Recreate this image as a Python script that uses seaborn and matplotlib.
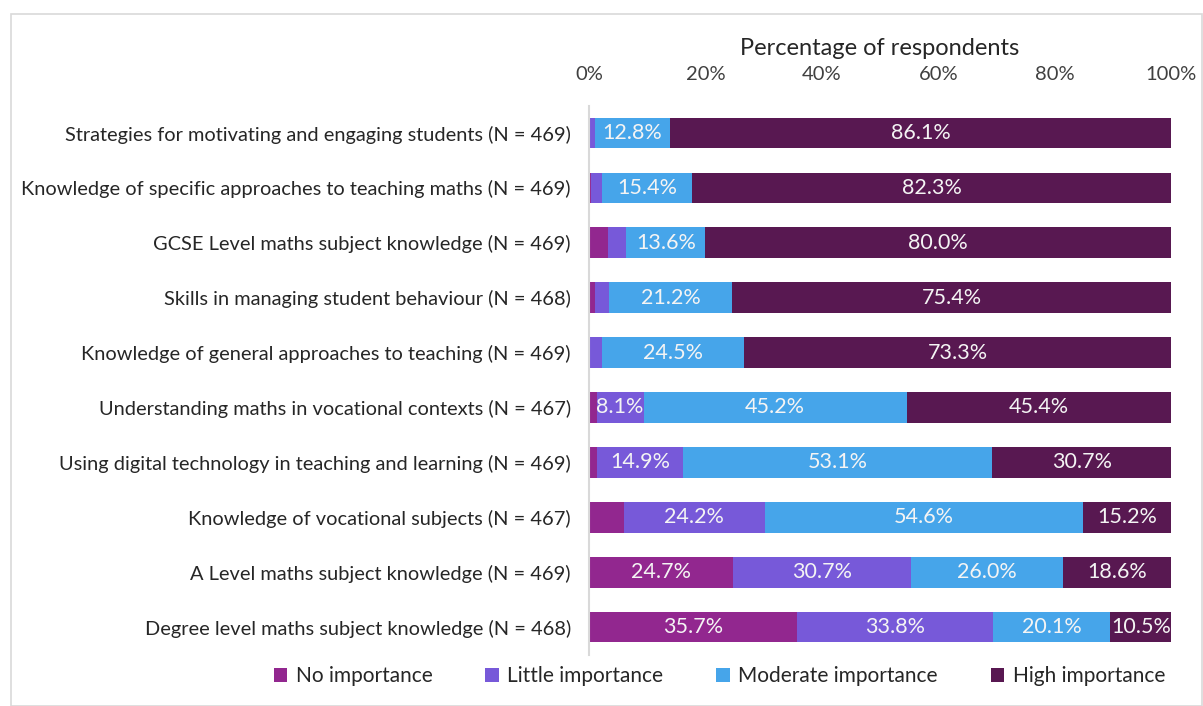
import numpy as np
import pandas as pd
import matplotlib.pyplot as plt
import seaborn as sns
from matplotlib.patches import Patch, Rectangle

# values (percent of respondents)
categories = [
    "Strategies for motivating and engaging students (N = 469)",
    "Knowledge of specific approaches to teaching maths (N = 469)",
    "GCSE Level maths subject knowledge (N = 469)",
    "Skills in managing student behaviour (N = 468)",
    "Knowledge of general approaches to teaching (N = 469)",
    "Understanding maths in vocational contexts (N = 467)",
    "Using digital technology in teaching and learning (N = 469)",
    "Knowledge of vocational subjects (N = 467)",
    "A Level maths subject knowledge (N = 469)",
    "Degree level maths subject knowledge (N = 468)",
]
no_importance = [0.0, 0.4, 3.3, 1.0, 0.0, 1.3, 1.3, 6.0, 24.7, 35.7]
little_importance = [1.1, 1.9, 3.1, 2.4, 2.2, 8.1, 14.9, 24.2, 30.7, 33.8]
moderate_importance = [12.8, 15.4, 13.6, 21.2, 24.5, 45.2, 53.1, 54.6, 26.0, 20.1]
high_importance = [86.1, 82.3, 80.0, 75.4, 73.3, 45.4, 30.7, 15.2, 18.6, 10.5]

levels = ["No importance", "Little importance", "Moderate importance", "High importance"]
colors = ["#92278f", "#7759d9", "#46a5ea", "#581851"]
tick_labels = ["0%", "20%", "40%", "60%", "80%", "100%"]

df = pd.DataFrame({
    "category": categories,
    "No importance": no_importance,
    "Little importance": little_importance,
    "Moderate importance": moderate_importance,
    "High importance": high_importance,
})
cum = df[levels].cumsum(axis=1)
for lv in levels:
    df["end_" + lv] = cum[lv]

sns.set_theme(style="white")
plt.rcParams["font.family"] = ["Lato", "DejaVu Sans"]

fig = plt.figure(figsize=(12.03, 7.06), dpi=100)
ax = fig.add_axes([0.4896, 0.0729, 0.4838, 0.7776])

# stacked bars: draw cumulative totals from the right-most level backwards
for lv, col in reversed(list(zip(levels, colors))):
    sns.barplot(data=df, x="end_" + lv, y="category", color=col,
                width=0.56, linewidth=0, saturation=1, ax=ax, orient="h")

# value labels (only for segments wide enough)
for i, row in df.iterrows():
    start = 0.0
    for lv in levels:
        v = row[lv]
        if v >= 8:
            ax.text(start + v / 2, i, f"{v:.1f}%", ha="center", va="center",
                    color="#f4f4f4", fontsize=15.5)
        start += v

ax.set_xlim(0, 100)
ax.set_xticks(np.arange(0, 101, 20))
ax.set_xticklabels(tick_labels, fontsize=14.5, color="#404040")
ax.xaxis.tick_top()
ax.xaxis.set_label_position("top")
ax.set_xlabel("Percentage of respondents", fontsize=17, color="#262626", labelpad=8)
ax.set_ylabel("")
ax.tick_params(axis="x", length=0, pad=16)
ax.tick_params(axis="y", length=0, pad=13)
for lab in ax.get_yticklabels():
    lab.set_fontsize(14.4)
    lab.set_color("#262626")

for s in ["top", "right", "bottom"]:
    ax.spines[s].set_visible(False)
ax.spines["left"].set_color("#d9d9d9")
ax.spines["left"].set_linewidth(1.5)

handles = [Patch(facecolor=c, edgecolor="none") for c in colors]
fig.legend(handles, levels, loc="center", bbox_to_anchor=(0.598, 0.042), ncol=4,
           frameon=False, fontsize=15, handlelength=0.65, handleheight=0.65,
           handletextpad=0.4, columnspacing=2.55, labelcolor="#262626")

fig.patches.append(Rectangle((0.009, 0.0), 0.99, 0.98, transform=fig.transFigure,
                             fill=False, edgecolor="#d9d9d9", linewidth=1.2))

fig.savefig("out.png", dpi=100)
